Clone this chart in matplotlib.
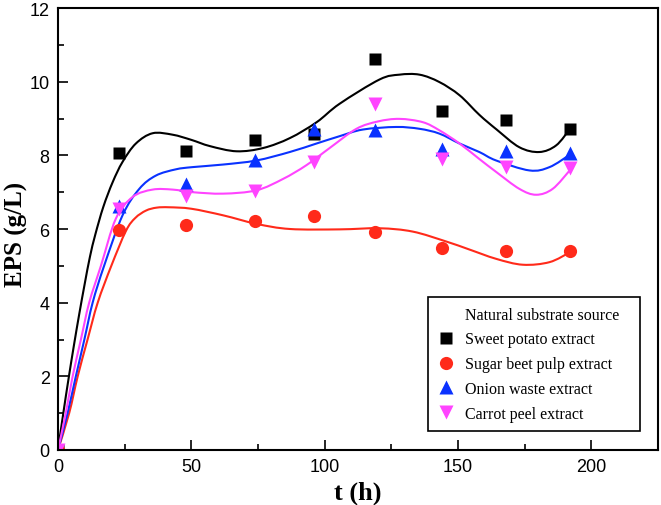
import matplotlib
matplotlib.use('Agg')
import matplotlib.pyplot as plt
import numpy as np
from matplotlib.lines import Line2D
from matplotlib.path import Path
from matplotlib.patches import PathPatch
from matplotlib.ticker import MultipleLocator

# measured points
t = [0, 23, 48, 74, 96, 119, 144, 168, 192]
sweet = [0, 8.07, 8.12, 8.41, 8.59, 10.62, 9.20, 8.95, 8.72]
beet = [0, 5.98, 6.10, 6.21, 6.34, 5.92, 5.49, 5.41, 5.41]
onion = [0, 6.62, 7.23, 7.86, 8.72, 8.68, 8.16, 8.13, 8.07]
carrot = [0, 6.55, 6.90, 7.02, 7.82, 9.40, 7.91, 7.69, 7.66]

# fitted curves
sweet_fit_t = [0, 2, 4, 6, 8, 10, 12, 14, 17, 20.5, 24.2, 29.2, 35.5, 43, 50, 57, 67, 77, 87, 97,
               105.6, 120.6, 128, 135.6, 143, 150.6, 158, 164.5, 173, 180.5, 186.8, 192]
sweet_fit = [0, 1.0, 1.95, 2.85, 3.7, 4.5, 5.25, 5.85, 6.6, 7.27, 7.82, 8.32, 8.6, 8.56, 8.42, 8.25, 8.11, 8.2,
             8.47, 8.9, 9.4, 10.06, 10.19, 10.19, 9.99, 9.63, 9.1, 8.7, 8.22, 8.09, 8.27, 8.72]

beet_fit_t = [0, 4.2, 7.4, 11.1, 14.9, 20, 25.5, 29, 33, 37, 41.7, 50, 62, 74.4, 87, 105.6,
              120.6, 133, 145.6, 154, 164.3, 174.3, 184.3, 192]
beet_fit = [0, 1.0, 2.0, 3.0, 4.0, 5.0, 5.95, 6.3, 6.5, 6.58, 6.59, 6.55, 6.37, 6.14, 6.0, 5.99,
            6.02, 5.93, 5.66, 5.45, 5.19, 5.03, 5.1, 5.37]

onion_fit_t = [0, 3.6, 6.7, 9.9, 13, 17.3, 24.2, 30.5, 36.7, 44.2, 50.4, 61.9, 74.4, 86.9, 96.9, 105.6,
               114.3, 126.8, 135.6, 143, 150.6, 158, 164.3, 176.8, 184.3, 192]
onion_fit = [0, 1.0, 2.0, 3.0, 4.0, 5.0, 6.37, 7.09, 7.45, 7.62, 7.68, 7.75, 7.86, 8.09, 8.32, 8.52,
             8.7, 8.77, 8.72, 8.59, 8.32, 8.09, 7.86, 7.59, 7.68, 8.02]

carrot_fit_t = [0, 3, 5.5, 8.6, 11.7, 16.1, 21.7, 28, 35.5, 43, 50.4, 61.9, 74.4, 84.4, 93.1, 101.9,
                111.9, 120, 128, 136.8, 143, 150.6, 158, 164.3, 173, 179.3, 185.5, 192]
carrot_fit = [0, 1.03, 2.0, 3.0, 4.0, 5.0, 6.28, 6.87, 7.07, 7.07, 7.0, 6.96, 7.05, 7.36, 7.73, 8.2,
              8.72, 8.92, 8.99, 8.9, 8.68, 8.32, 7.9, 7.55, 7.09, 6.93, 7.09, 7.6]

labels = ['Sweet potato extract', 'Sugar beet pulp extract', 'Onion waste extract', 'Carrot peel extract']
colors = ['black', '#ff2a1a', '#0a32ff', '#ff44ff']
markers = ['s', 'o', '^', 'v']
msizes = [8.5, 9.5, 10, 10]


def smooth_curve(ax, xs, ys, color):
    # catmull-rom segments drawn as bezier curves in data coordinates
    p = np.column_stack([xs, ys]).astype(float)
    n = len(p)
    verts = [p[0]]
    codes = [Path.MOVETO]
    for i in range(n - 1):
        p0 = p[i - 1] if i > 0 else p[i]
        p3 = p[i + 2] if i + 2 < n else p[i + 1]
        verts += [p[i] + (p[i + 1] - p0) / 6, p[i + 1] - (p3 - p[i]) / 6, p[i + 1]]
        codes += [Path.CURVE4] * 3
    ax.add_patch(PathPatch(Path(verts, codes), fc='none', ec=color, lw=1.5))


fig = plt.figure(figsize=(6.61, 5.06), dpi=100)
ax = fig.add_axes([0.0877, 0.1087, 0.9078, 0.8735])

fits = [(sweet_fit_t, sweet_fit), (beet_fit_t, beet_fit), (onion_fit_t, onion_fit), (carrot_fit_t, carrot_fit)]
pts = [sweet, beet, onion, carrot]
for (ft, fy), c in zip(fits, colors):
    smooth_curve(ax, ft, fy, c)
for ys, c, m, ms in zip(pts, colors, markers, msizes):
    ax.plot(t, ys, ls='none', marker=m, ms=ms, color=c, mec='none')

ax.set_xlim(0, 225)
ax.set_ylim(0, 12)
ax.xaxis.set_major_locator(MultipleLocator(50))
ax.xaxis.set_minor_locator(MultipleLocator(25))
ax.yaxis.set_major_locator(MultipleLocator(2))
ax.yaxis.set_minor_locator(MultipleLocator(1))
ax.tick_params(which='both', direction='in', top=False, right=False, width=1.2)
ax.tick_params(which='major', length=7, labelsize=13, pad=6)
ax.tick_params(which='minor', length=4)
for lab in ax.get_xticklabels() + ax.get_yticklabels():
    lab.set_family('Liberation Sans')
for s in ax.spines.values():
    s.set_linewidth(1.5)

ax.set_xlabel('t (h)', family='Liberation Serif', weight='bold', fontsize=19, labelpad=4)
ax.set_ylabel('EPS (g/L)', family='Liberation Serif', weight='bold', fontsize=18)
ax.yaxis.set_label_coords(-0.05, 0.49)

handles = [Line2D([], [], ls='none', marker='none')]
for c, m, ms in zip(colors, markers, msizes):
    handles.append(Line2D([], [], ls='none', marker=m, ms=ms, color=c, mec='none'))
leg = ax.legend(handles, ['Natural substrate source'] + labels,
                loc='upper left', bbox_to_anchor=(0.617, 0.346, 0.353, 0.0), mode='expand',
                borderaxespad=0, prop={'family': 'Liberation Serif', 'size': 11.5},
                fancybox=False, edgecolor='black', framealpha=1, handlelength=1.0,
                handletextpad=0.7, labelspacing=0.55, borderpad=0.6)
leg.get_frame().set_linewidth(1.2)

fig.savefig('out.png', dpi=100)
